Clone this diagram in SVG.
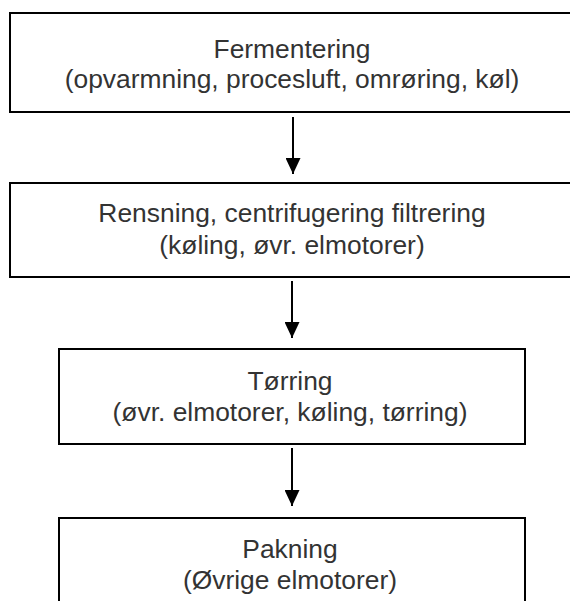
<svg xmlns="http://www.w3.org/2000/svg" width="570" height="601" viewBox="0 0 570 601">
  <style>
    .box { fill: #ffffff; stroke: #000000; stroke-width: 2; }
    .label { font-family: "Liberation Sans", Arial, sans-serif; font-size: 26.4px; fill: #333333; text-anchor: middle; }
    .link { stroke: #000000; stroke-width: 2; fill: none; marker-end: url(#head); }
  </style>
  <defs>
    <!-- solid triangular arrowhead for the flow arrows -->
    <marker id="head" viewBox="0 0 16 15" refX="16" refY="7.5" markerWidth="16" markerHeight="15" markerUnits="userSpaceOnUse" orient="auto">
      <path d="M0,0 L16,7.5 L0,15 Z" fill="#000000"/>
    </marker>
  </defs>
  <rect width="570" height="601" fill="#ffffff"/>

  <g id="connectors">
    <line class="link" x1="293" y1="117" x2="293" y2="174"/>
    <line class="link" x1="292" y1="281" x2="292" y2="338"/>
    <line class="link" x1="292" y1="448" x2="292" y2="506"/>
  </g>

  <g id="fermentering">
    <rect class="box" x="10" y="13" width="564" height="99"/>
    <text class="label" x="292" y="58">Fermentering</text>
    <text class="label" x="292" y="88">(opvarmning, procesluft, omrøring, køl)</text>
  </g>

  <g id="rensning">
    <rect class="box" x="10" y="183" width="564" height="94"/>
    <text class="label" x="292" y="222">Rensning, centrifugering filtrering</text>
    <text class="label" x="292" y="254">(køling, øvr. elmotorer)</text>
  </g>

  <g id="toerring">
    <rect class="box" x="59" y="349" width="466" height="95"/>
    <text class="label" x="290" y="390">Tørring</text>
    <text class="label" x="290" y="421">(øvr. elmotorer, køling, tørring)</text>
  </g>

  <g id="pakning">
    <rect class="box" x="59" y="518" width="466" height="100"/>
    <text class="label" x="290" y="558">Pakning</text>
    <text class="label" x="290" y="589">(Øvrige elmotorer)</text>
  </g>
</svg>
